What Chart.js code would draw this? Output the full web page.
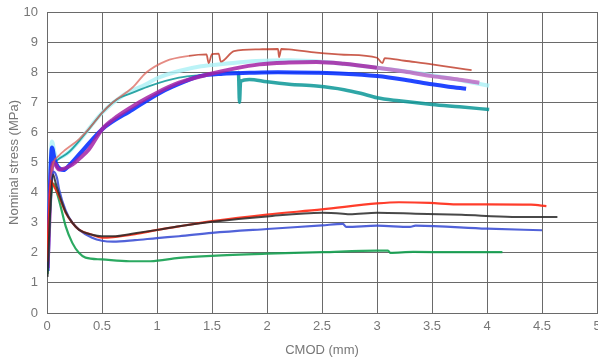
<!DOCTYPE html>
<html>
<head>
<meta charset="utf-8">
<script src="https://cdn.jsdelivr.net/npm/chart.js@4"></script>
<style>
  html, body { margin: 0; padding: 0; background: #ffffff; }
  #wrap { width: 598px; height: 358px; position: relative; }
</style>
</head>
<body>
<div id="wrap"><canvas id="c" width="598" height="358"></canvas></div>
<script>
// ---- data ----
const xTickLabels = ["0","0.5","1","1.5","2","2.5","3","3.5","4","4.5","5"];
const yTickLabels = ["0","1","2","3","4","5","6","7","8","9","10"];

// upper (hardening) curves
const darkRedX = [0.005,0.04,0.06,0.1,0.17,0.29,0.4,0.5,0.6,0.78,0.9,1.08,1.29,1.45,1.47,1.5,1.56,1.58,1.7,1.93,2.1,2.11,2.13,2.2,2.45,2.7,3.0,3.05,3.07,3.25,3.5,3.7,3.86];
const darkRedY = [1.6,4.6,5.0,5.2,5.43,5.77,6.2,6.65,7.0,7.5,7.98,8.37,8.54,8.59,8.3,8.6,8.62,8.35,8.7,8.76,8.77,8.5,8.77,8.76,8.65,8.58,8.48,8.3,8.47,8.38,8.26,8.15,8.07];

const cyanX = [0.005,0.03,0.045,0.07,0.1,0.2,0.3,0.5,0.7,0.9,1.0,1.2,1.4,1.6,1.9,2.2,2.5,3.0,3.5,3.8,4.02];
const cyanY = [1.5,4.8,5.7,5.3,5.15,5.35,5.75,6.65,7.25,7.6,7.8,8.04,8.2,8.27,8.37,8.4,8.35,8.15,7.9,7.7,7.55];

const tealX = [0.005,0.04,0.07,0.1,0.2,0.3,0.4,0.5,0.6,0.66,0.78,0.93,1.2,1.47,1.62,1.74,1.75,1.76,1.84,2.0,2.2,2.45,2.7,2.85,3.0,3.2,3.5,3.75,4.02];
const tealY = [1.5,4.9,5.0,5.1,5.35,5.75,6.2,6.65,7.0,7.15,7.32,7.54,7.82,7.93,8.0,8.0,7.0,7.7,7.76,7.68,7.6,7.54,7.42,7.3,7.15,7.05,6.93,6.85,6.76];

const purpleX = [0.005,0.04,0.06,0.11,0.23,0.3,0.38,0.5,0.6,0.84,1.0,1.2,1.47,1.7,1.93,2.2,2.45,2.7,3.0,3.25,3.5,3.75,3.93];
const purpleY = [1.5,4.6,5.0,4.77,4.93,5.15,5.43,6.1,6.43,7.0,7.32,7.65,7.93,8.12,8.26,8.32,8.34,8.28,8.15,8.02,7.87,7.75,7.65];

const brightBlueX = [0.005,0.03,0.045,0.07,0.1,0.15,0.2,0.3,0.5,0.78,1.03,1.26,1.39,1.6,1.84,2.1,2.45,2.7,3.0,3.25,3.5,3.65,3.81];
const brightBlueY = [1.4,4.6,5.5,5.1,4.85,4.75,4.9,5.3,6.1,6.76,7.32,7.7,7.87,7.95,7.98,8.0,7.98,7.95,7.87,7.75,7.6,7.52,7.45];

// lower (softening) curves
const redX = [0.0,0.02,0.035,0.05,0.08,0.11,0.17,0.23,0.29,0.41,0.5,0.6,0.8,1.02,1.2,1.5,2.0,2.5,3.0,3.2,3.48,3.72,4.0,4.4,4.54];
const redY = [1.7,3.5,4.4,4.3,4.1,3.88,3.33,3.0,2.77,2.6,2.5,2.52,2.62,2.77,2.88,3.05,3.27,3.44,3.64,3.68,3.66,3.61,3.61,3.6,3.55];

const blackX = [0.005,0.03,0.055,0.08,0.11,0.17,0.23,0.29,0.41,0.5,0.6,0.8,1.02,1.2,1.5,2.0,2.5,2.69,2.75,3.0,3.35,3.77,4.23,4.64];
const blackY = [1.2,3.5,4.6,4.3,3.95,3.35,3.0,2.77,2.6,2.55,2.55,2.65,2.77,2.88,3.03,3.21,3.33,3.3,3.28,3.33,3.3,3.26,3.19,3.19];

const blueX = [0.005,0.03,0.06,0.09,0.11,0.17,0.23,0.29,0.41,0.5,0.6,0.8,1.0,1.2,1.5,2.0,2.5,2.69,2.72,3.0,3.3,3.35,4.0,4.5];
const blueY = [1.5,3.8,4.7,4.5,4.1,3.4,3.0,2.77,2.5,2.4,2.37,2.42,2.49,2.55,2.66,2.79,2.91,2.96,2.86,2.9,2.86,2.9,2.8,2.75];

const greenX = [0.005,0.03,0.06,0.09,0.12,0.17,0.23,0.29,0.35,0.5,0.75,0.94,1.2,1.5,2.0,2.5,3.0,3.1,3.12,3.33,3.7,4.14];
const greenY = [1.3,3.5,4.3,4.0,3.6,2.88,2.33,2.0,1.84,1.78,1.72,1.72,1.83,1.9,1.97,2.02,2.07,2.07,2.0,2.03,2.02,2.02];

// ---- chart ----
function pts(xs, ys) { return xs.map((x, i) => ({ x: x, y: ys[i] })); }
function ds(xs, ys, color, width, segment) {
  const d = { data: pts(xs, ys), borderColor: color, borderWidth: width, pointRadius: 0,
           cubicInterpolationMode: 'monotone', fill: false };
  if (segment) d.segment = segment;
  return d;
}

const gridColor = '#6a6a6a';
const textColor = '#777777';
const font = { family: "'Liberation Sans', Arial, sans-serif", size: 13 };

// first dataset is drawn on top
new Chart(document.getElementById('c'), {
  type: 'line',
  data: {
    datasets: [
      ds(blackX, blackY, 'rgba(40,40,40,0.85)', 2),
      ds(redX, redY, 'rgba(255,40,20,0.9)', 2.2),
      ds(blueX, blueY, 'rgba(50,70,210,0.85)', 2.2),
      ds(greenX, greenY, 'rgba(20,160,80,0.9)', 2.2),
      ds(darkRedX, darkRedY, 'rgba(185,40,20,0.75)', 1.8, {
        borderColor: (c) => c.p0.parsed.x < 1.2 ? 'rgba(220,100,90,0.75)' : undefined
      }),
      ds(purpleX, purpleY, 'rgba(165,35,165,0.85)', 4, {
        borderColor: (c) => c.p0.parsed.x >= 3.0 ? 'rgba(190,90,190,0.75)' : undefined
      }),
      ds(brightBlueX, brightBlueY, 'rgba(10,50,255,0.9)', 4),
      ds(tealX, tealY, 'rgba(10,150,150,0.85)', 3.5, {
        borderWidth: (c) => c.p0.parsed.x < 1.74 ? 1.8 : undefined
      }),
      ds(cyanX, cyanY, 'rgba(170,240,245,0.8)', 4)
    ]
  },
  options: {
    responsive: false,
    animation: false,
    layout: { padding: { top: 12, right: 1, left: 0, bottom: 0 } },
    plugins: { legend: { display: false }, tooltip: { enabled: false } },
    scales: {
      x: {
        type: 'linear', min: 0, max: 5,
        ticks: { stepSize: 0.5, color: textColor, font: font, padding: 6, maxRotation: 0,
                 callback: (v) => xTickLabels[Math.round(v / 0.5)] },
        grid: { color: gridColor, lineWidth: 1, drawTicks: false },
        border: { color: gridColor, width: 1 },
        title: { display: true, text: 'CMOD (mm)', color: textColor,
                 font: { family: font.family, size: 13 }, padding: { top: 4, bottom: 0 } },
        afterFit: (s) => { s.height = 45; s.paddingLeft = 0; s.paddingRight = 0; }
      },
      y: {
        type: 'linear', min: 0, max: 10,
        ticks: { stepSize: 1, color: textColor, font: font, padding: 9,
                 callback: (v) => yTickLabels[Math.round(v)] },
        grid: { color: gridColor, lineWidth: 1, drawTicks: false },
        border: { color: gridColor, width: 1 },
        title: { display: true, text: 'Nominal stress (MPa)', color: textColor,
                 font: { family: font.family, size: 13 }, padding: { top: 7, bottom: 0 } },
        afterFit: (s) => { s.width = 47; s.paddingTop = 0; s.paddingBottom = 0; }
      }
    }
  }
});
</script>
</body>
</html>
